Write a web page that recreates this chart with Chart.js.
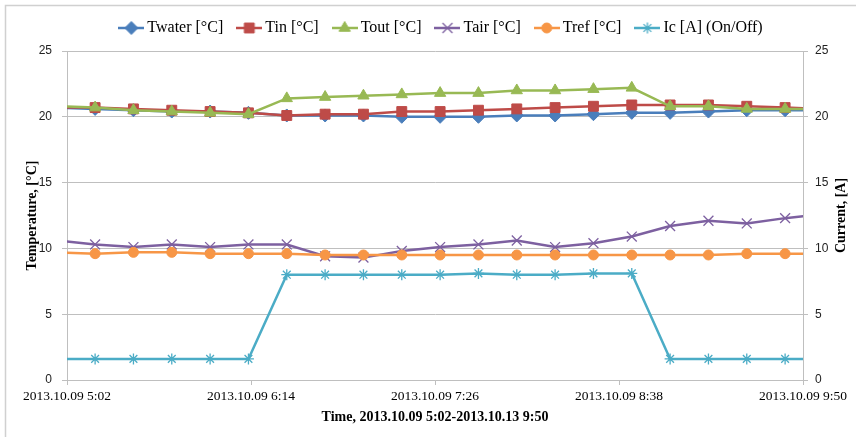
<!DOCTYPE html>
<html><head><meta charset="utf-8">
<script src="https://cdn.jsdelivr.net/npm/chart.js@4.4.1/dist/chart.umd.min.js"></script>
<style>html,body{margin:0;padding:0;background:#fff;}#wrap{width:856px;height:437px;}</style>
</head><body><div id="wrap"><canvas id="c" width="856" height="437" style="width:856px;height:437px"></canvas></div>
<script>
// ---- data ----
const times = ["4:58","5:13","5:28","5:43","5:58","6:13","6:28","6:43","6:58","7:13","7:28","7:43","7:58","8:13","8:28","8:43","8:58","9:13","9:28","9:43","9:58"];
const twater = [20.7,20.6,20.5,20.4,20.4,20.3,20.1,20.1,20.1,20.0,20.0,20.0,20.1,20.1,20.2,20.3,20.3,20.4,20.5,20.5,20.5];
const tin    = [20.7,20.7,20.6,20.5,20.4,20.3,20.1,20.2,20.2,20.4,20.4,20.5,20.6,20.7,20.8,20.9,20.9,20.9,20.8,20.7,20.6];
const tout   = [20.8,20.7,20.5,20.4,20.3,20.2,21.4,21.5,21.6,21.7,21.8,21.8,22.0,22.0,22.1,22.2,20.8,20.8,20.6,20.6,20.6];
const tair   = [10.6,10.3,10.1,10.3,10.1,10.3,10.3,9.4,9.3,9.8,10.1,10.3,10.6,10.1,10.4,10.9,11.7,12.1,11.9,12.3,12.6];
const tref   = [9.7,9.6,9.7,9.7,9.6,9.6,9.6,9.5,9.5,9.5,9.5,9.5,9.5,9.5,9.5,9.5,9.5,9.5,9.6,9.6,9.6];
const ic     = [1.6,1.6,1.6,1.6,1.6,1.6,8.0,8.0,8.0,8.0,8.0,8.1,8.0,8.0,8.1,8.1,1.6,1.6,1.6,1.6,1.6];
const seriesNames = ["Twater [°C]","Tin [°C]","Tout [°C]","Tair [°C]","Tref [°C]","Ic [A] (On/Off)"];
const xTickLabels = ["2013.10.09 5:02","2013.10.09 6:14","2013.10.09 7:26","2013.10.09 8:38","2013.10.09 9:50"];
const axisStart = "5:02", axisEnd = "9:50";
const yTicks = [0,5,10,15,20,25];
const xTitle = "Time, 2013.10.09 5:02-2013.10.13 9:50";
const yTitle = "Temperature, [°C]";
const y2Title = "Current, [A]";

// ---- helpers ----
const toMin = s => { const [h,m] = s.split(":").map(Number); return h*60+m; };
const t0 = toMin(axisStart);
const xs = times.map(t => toMin(t) - t0);
const pts = arr => arr.map((v,i) => ({x: xs[i], y: v}));

const colors = ["#4A7EBB","#BE4B48","#98B954","#7D60A0","#F79646","#4BACC6"];
const styles = ["rectRot","rect","triangle","crossRot","circle","star"];
const radii  = [6.5,7,6.5,7,5,5.5];
const bws    = [1,1,1,1.3,1,1.3];
const allSeries = [twater,tin,tout,tair,tref,ic];

function makeIcon(i){
  const cv = document.createElement('canvas');
  cv.width = 26; cv.height = 14;
  const ctx = cv.getContext('2d');
  ctx.strokeStyle = colors[i]; ctx.fillStyle = colors[i];
  ctx.lineWidth = 2.5;
  ctx.beginPath(); ctx.moveTo(0,7); ctx.lineTo(26,7); ctx.stroke();
  ctx.lineWidth = bws[i];
  Chart.helpers.drawPoint(ctx, {pointStyle: styles[i], radius: radii[i], rotation: 0, borderWidth: bws[i]}, 13, 7);
  return cv;
}
const icons = colors.map((c,i)=>makeIcon(i));

const datasets = allSeries.map((arr,i) => ({
  label: seriesNames[i],
  data: pts(arr),
  borderColor: colors[i],
  backgroundColor: colors[i],
  pointBackgroundColor: colors[i],
  pointBorderColor: colors[i],
  pointStyle: styles[i],
  pointRadius: radii[i],
  pointBorderWidth: bws[i],
  borderWidth: 2.5,
  tension: 0,
  yAxisID: i === 5 ? 'y2' : 'y',
  order: 5 - i,
  clip: 0
}));

const frame = {
  id: 'frame',
  beforeLayout(chart){
    const lg = chart.legend;
    if (lg && !lg._patched) {
      const f = lg.fit.bind(lg);
      lg.fit = function(){ f(); this.height = 51; };
      lg._patched = true;
    }
  },
  afterLayout(chart){
    const lg = chart.legend;
    if (lg) { lg.left += 15; lg.right += 15; lg.top += 2; lg.bottom += 2; }
  },
  beforeDraw(chart){
    const ctx = chart.ctx;
    ctx.save();
    ctx.fillStyle = '#fff'; ctx.fillRect(0,0,chart.width,chart.height);
    ctx.strokeStyle = '#d0d0d0'; ctx.lineWidth = 1.5;
    ctx.beginPath(); ctx.moveTo(5.5, 440); ctx.lineTo(5.5, 5.5); ctx.lineTo(860, 5.5); ctx.stroke();
    ctx.restore();
  },
  afterDraw(chart){
    const ctx = chart.ctx;
    ctx.save();
    ctx.translate(841, (chart.chartArea.top + chart.chartArea.bottom)/2);
    ctx.rotate(-Math.PI/2);
    ctx.font = 'bold 14px "Liberation Serif"';
    ctx.fillStyle = '#000'; ctx.textAlign = 'center'; ctx.textBaseline = 'middle';
    ctx.fillText(y2Title, 0, 0);
    ctx.restore();
  }
};

const gridColor = '#bfbfbf';
new Chart(document.getElementById('c'), {
  type: 'line',
  data: { datasets },
  plugins: [frame],
  options: {
    responsive: false, animation: false,
    layout: { padding: 0 },
    plugins: {
      tooltip: { enabled: false },
      legend: {
        position: 'top',
        labels: {
          usePointStyle: true, pointStyleWidth: 16, padding: 18,
          color: '#000',
          font: { family: '"Liberation Serif"', size: 16 },
          generateLabels: chart => chart.data.datasets.map((ds,i) => ({
            text: ds.label, pointStyle: icons[i], datasetIndex: i,
            fillStyle: colors[i], strokeStyle: colors[i], lineWidth: 0, hidden: false, fontColor: '#000'
          }))
        }
      }
    },
    scales: {
      x: {
        type: 'linear', min: 0, max: toMin(axisEnd) - t0,
        afterBuildTicks: s => { s.ticks = xTickLabels.map((l,i) => ({value: i * (toMin(axisEnd)-t0)/(xTickLabels.length-1)})); },
        afterFit: s => { s.height = 57; },
        grid: { drawOnChartArea: false, drawTicks: true, tickLength: 5, color: gridColor },
        border: { color: gridColor },
        ticks: { maxRotation: 0, autoSkip: false, padding: 3, color: '#000',
          font: { family: '"Liberation Serif"', size: 13.5 },
          callback: (v, i) => xTickLabels[i] },
        title: { display: true, text: xTitle, color: '#000',
          font: { family: '"Liberation Serif"', size: 14, weight: 'bold' },
          padding: { top: 0, bottom: 11.6 } }
      },
      y: {
        position: 'left', min: 0, max: 25,
        afterBuildTicks: s => { s.ticks = yTicks.map(v => ({value: v})); },
        afterFit: s => { s.width = 67; },
        grid: { color: gridColor, tickLength: 5 },
        border: { color: gridColor },
        ticks: { padding: 10, color: '#222', font: { family: '"Liberation Sans"', size: 12 } },
        title: { display: true, text: yTitle, color: '#000',
          font: { family: '"Liberation Serif"', size: 14, weight: 'bold' },
          padding: { top: 24, bottom: 0 } }
      },
      y2: {
        position: 'right', min: 0, max: 25,
        afterBuildTicks: s => { s.ticks = yTicks.map(v => ({value: v})); },
        afterFit: s => { s.width = 53; },
        grid: { drawOnChartArea: false, color: gridColor, tickLength: 5 },
        border: { color: gridColor },
        ticks: { padding: 7, color: '#222', font: { family: '"Liberation Sans"', size: 12 } },
        title: { display: false, text: y2Title }
      }
    }
  }
});
</script>
</body></html>
